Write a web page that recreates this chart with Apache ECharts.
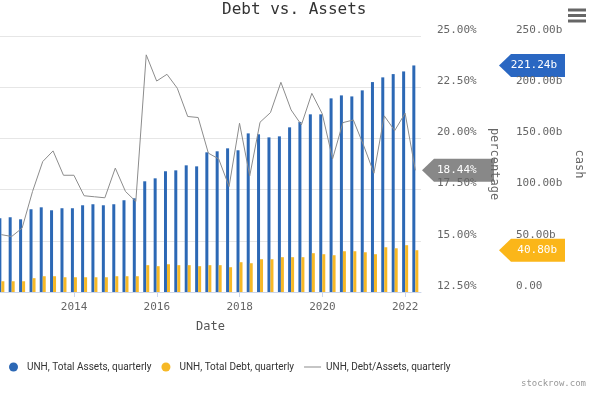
<!DOCTYPE html>
<html>
<head>
<meta charset="utf-8">
<script src="https://cdn.jsdelivr.net/npm/echarts@6/dist/echarts.min.js"></script>
<style>html,body{margin:0;padding:0;background:#fff}#c{width:600px;height:395px}</style>
</head>
<body>
<div id="c"></div>
<script>
// ---- data ----
const dates = ["2012-03-31","2012-06-30","2012-09-30","2012-12-31","2013-03-31","2013-06-30","2013-09-30","2013-12-31",
"2014-03-31","2014-06-30","2014-09-30","2014-12-31","2015-03-31","2015-06-30","2015-09-30","2015-12-31",
"2016-03-31","2016-06-30","2016-09-30","2016-12-31","2017-03-31","2017-06-30","2017-09-30","2017-12-31",
"2018-03-31","2018-06-30","2018-09-30","2018-12-31","2019-03-31","2019-06-30","2019-09-30","2019-12-31",
"2020-03-31","2020-06-30","2020-09-30","2020-12-31","2021-03-31","2021-06-30","2021-09-30","2021-12-31","2022-03-31"];
const totalAssets = [72.0,73.0,71.0,80.8,82.7,79.8,81.8,81.8,84.7,85.7,84.7,85.7,89.6,91.5,108.1,111.0,117.9,118.8,123.7,122.7,136.4,137.4,140.3,138.4,154.9,154.0,151.0,152.0,160.8,166.1,173.5,173.5,189.1,192.0,191.0,196.9,205.0,209.6,212.8,215.4,221.24];
const totalDebt = [10.5,10.5,10.5,13.5,15.4,15.4,14.4,14.4,14.4,14.4,14.4,15.4,15.4,15.4,26.2,25.2,27.1,26.2,26.2,25.2,26.2,26.2,24.2,29.1,28.1,32.0,32.0,34.0,34.0,34.0,37.9,36.9,35.9,39.8,39.8,38.8,36.9,43.7,42.7,45.7,40.80];
const debtToAssets = [15.3,15.21,15.62,17.41,18.87,19.39,18.2,18.2,17.2,17.15,17.1,18.55,17.41,16.92,24.08,22.8,23.13,22.45,21.07,21.02,19.28,19.0,17.65,20.74,18.17,20.79,21.26,22.74,21.39,20.66,22.2,21.2,19.0,20.77,20.9,19.64,18.3,21.1,20.38,21.23,18.44];
const yearTicks = ["2014-01-01","2016-01-01","2018-01-01","2020-01-01","2022-01-01"];
const seriesNames = ["UNH, Total Assets, quarterly","UNH, Total Debt, quarterly","UNH, Debt/Assets, quarterly"];
const axisStart = "2012-03-19", axisEnd = "2022-05-20";

function ts(s){const p=s.split('-').map(Number);return Date.UTC(p[0],p[1]-1,p[2]);}
const MONO = "'DejaVu Sans Mono', monospace";
const SANS = "'Roboto', sans-serif";
const BLUE = '#2c68b5', YELLOW = '#f6b826', GRAY = '#8c8c8c';

const chart = echarts.init(document.getElementById('c'));
const tickVals = yearTicks.map(ts);
chart.setOption({
  animation:false,
  title:{text:'Debt vs. Assets',left:222,top:2,padding:0,textStyle:{fontFamily:MONO,fontSize:16,fontWeight:'normal',color:'#333'}},
  grid:{left:0,right:179,top:36,bottom:103},
  legend:{left:4,top:357,itemWidth:17,itemHeight:9,itemGap:10,
    textStyle:{fontFamily:SANS,fontSize:10,color:'#333'},
    data:[{name:seriesNames[0],icon:'circle'},{name:seriesNames[1],icon:'circle'},
          {name:seriesNames[2],icon:'path://M0,0H14V1.6H0Z',itemStyle:{color:'#c4c4c4'}}]},
  xAxis:{type:'value',min:ts(axisStart),max:ts(axisEnd),scale:true,
    name:'Date',nameLocation:'middle',nameGap:29,nameTextStyle:{fontFamily:MONO,fontSize:12,color:'#555'},
    axisLine:{lineStyle:{color:'#ccd6eb'}},
    axisTick:{show:true,length:5,lineStyle:{color:'#ccd6eb'},customValues:tickVals},
    axisLabel:{margin:10,fontFamily:MONO,fontSize:11,color:'#666',customValues:tickVals,formatter:v=>String(new Date(v).getUTCFullYear())},
    splitLine:{show:false}},
  yAxis:[
    {type:'value',position:'right',min:12.5,max:25,interval:2.5,
     name:'percentage',nameLocation:'middle',nameRotate:-90,nameGap:62,
     nameTextStyle:{fontFamily:MONO,fontSize:12,color:'#666'},
     axisLine:{show:false},axisTick:{show:false},
     axisLabel:{margin:16,fontFamily:MONO,fontSize:11,color:'#666',verticalAlign:'bottom',lineHeight:12,formatter:v=>v.toFixed(2)+'%'},
     splitLine:{lineStyle:{color:'#e6e6e6'}}},
    {type:'value',position:'right',offset:80,min:0,max:250,interval:50,
     name:'cash',nameLocation:'middle',nameRotate:-90,nameGap:68,
     nameTextStyle:{fontFamily:MONO,fontSize:12,color:'#666'},
     axisLine:{show:false},axisTick:{show:false},
     axisLabel:{margin:15,fontFamily:MONO,fontSize:11,color:'#666',verticalAlign:'bottom',lineHeight:12,formatter:v=>v===0?'0.00':v.toFixed(2)+'b'},
     splitLine:{show:false}}
  ],
  series:[
    {name:seriesNames[0],type:'bar',yAxisIndex:1,barWidth:3,barGap:'0%',itemStyle:{color:BLUE},
     data:dates.map((d,i)=>[ts(d),totalAssets[i]])},
    {name:seriesNames[1],type:'bar',yAxisIndex:1,barWidth:3,barGap:'0%',itemStyle:{color:YELLOW},
     data:dates.map((d,i)=>[ts(d),totalDebt[i]])},
    {name:seriesNames[2],type:'line',yAxisIndex:0,symbol:'none',lineStyle:{color:GRAY,width:1},itemStyle:{color:'#c4c4c4'},
     data:dates.map((d,i)=>[ts(d),debtToAssets[i]])}
  ]
});

function tag(y, x0, x1, text, color, textX, align){
  const h = 11.5;
  return {type:'group',children:[
    {type:'polygon',shape:{points:[[x0,y],[x0+12,y-h],[x1,y-h],[x1,y+h],[x0+12,y+h]]},style:{fill:color}},
    {type:'text',x:textX,y:y,style:{text:text,fill:'#fff',font:'11px '+MONO,textAlign:align,textVerticalAlign:'middle'}}
  ]};
}
const n = dates.length-1;
const yA = chart.convertToPixel({yAxisIndex:1}, totalAssets[n]);
const yD = chart.convertToPixel({yAxisIndex:1}, totalDebt[n]);
const yR = chart.convertToPixel({yAxisIndex:0}, debtToAssets[n]);
chart.setOption({graphic:[
  tag(yA, 499, 565, totalAssets[n].toFixed(2)+'b', '#2a67c2', 557, 'right'),
  tag(yD, 499, 565, totalDebt[n].toFixed(2)+'b', '#fbb619', 557, 'right'),
  tag(yR, 422, 494, debtToAssets[n].toFixed(2)+'%', '#888888', 437, 'left'),
  {type:'rect',shape:{x:568,y:8.5,width:18,height:3},style:{fill:'#666'}},
  {type:'rect',shape:{x:568,y:14,width:18,height:3},style:{fill:'#666'}},
  {type:'rect',shape:{x:568,y:19.5,width:18,height:3},style:{fill:'#666'}},
  {type:'text',x:586,y:384,style:{text:'stockrow.com',fill:'#999',font:'9px '+MONO,textAlign:'right',textVerticalAlign:'middle'}}
]});
</script>
</body>
</html>
